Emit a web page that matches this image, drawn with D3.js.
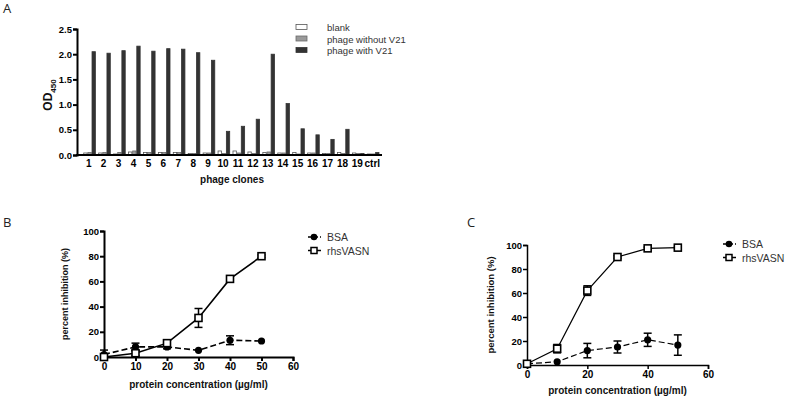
<!DOCTYPE html>
<html>
<head>
<meta charset="utf-8">
<script src="https://cdn.jsdelivr.net/npm/d3@7"></script>
<style>
  body { margin: 0; background: #fff; }
  svg { display: block; font-family: "Liberation Sans", Arial, sans-serif; }
  .tick text { font-family: "Liberation Sans", Arial, sans-serif; font-weight: bold; font-size: 10px; fill: #000; }
  .panel-letter { font-family: "Open Sans", "DejaVu Sans", sans-serif; font-size: 13px; fill: #222; }
  .title { font-weight: bold; font-size: 10px; fill: #111; }
  .leg { font-size: 10.5px; fill: #333; }
</style>
</head>
<body>
<svg id="chart" width="786" height="401"></svg>
<script>
// panel A data
const clones = ["1","2","3","4","5","6","7","8","9","10","11","12","13","14","15","16","17","18","19","ctrl"];
const blank =       [0.04,0.04,0.02,0.06,0.05,0.05,0.05,0.03,0.04,0.08,0.08,0.06,0.05,0.04,0.05,0.04,0.03,0.05,0.04,0.02];
const phageNoV21 =  [0.05,0.05,0.05,0.08,0.05,0.05,0.05,0.03,0.04,0.03,0.04,0.03,0.06,0.04,0.02,0.04,0.03,0.03,0.03,0.02];
const phageV21 =    [2.05,2.02,2.07,2.16,2.06,2.11,2.10,2.03,1.88,0.47,0.57,0.71,2.00,1.02,0.52,0.40,0.31,0.51,0.03,0.05];
const seriesA = ["blank", "phage without V21", "phage with V21"];
const yTicksA = [0, 0.5, 1.0, 1.5, 2.0, 2.5];

// panel B / C data
const conc = [0, 10, 20, 30, 40, 50];
const bsaB =      [2, 8, 8, 5.3, 13.3, 12.7];
const bsaBErr =   [3.5, 3, 1.5, 0, 3.5, 0];
const vasnB =     [0, 3, 11, 31, 62, 80];
const vasnBErr =  [2, 2, 2.5, 7.5, 1.5, 1];
const bsaC =      [1, 2.7, 12, 15, 21, 16.6];
const bsaCErr =   [1, 0, 6, 5, 5.5, 8.5];
const vasnC =     [1, 13.6, 62, 90, 97.2, 97.8];
const vasnCErr =  [1, 3.5, 4, 1, 1, 1];

const svg = d3.select("#chart");

// ---------- Panel A ----------
const ax = d3.scaleBand().domain(clones).range([79, 382]).paddingInner(0.2).paddingOuter(0.25);
const ay = d3.scaleLinear().domain([0, 2.5]).range([155, 29]);
const sub = d3.scaleBand().domain(seriesA).range([0, ax.bandwidth()]).paddingInner(0.12);
const fillA = {"blank": "#fff", "phage without V21": "#9a9a9a", "phage with V21": "#333"};
const strokeA = {"blank": "#555", "phage without V21": "#6a6a6a", "phage with V21": "#333"};
const valsA = {"blank": blank, "phage without V21": phageNoV21, "phage with V21": phageV21};

svg.append("text").attr("class", "panel-letter").attr("x", 3).attr("y", 13).text("A");

const gA = svg.append("g");
seriesA.forEach(s => {
  gA.selectAll(null)
    .data(clones)
    .enter()
    .append("rect")
    .attr("x", d => ax(d) + sub(s) + 1)
    .attr("y", (d, i) => ay(valsA[s][i]))
    .attr("width", sub.bandwidth() - 0.3)
    .attr("height", (d, i) => ay(0) - ay(valsA[s][i]))
    .attr("fill", fillA[s])
    .attr("stroke", strokeA[s])
    .attr("stroke-width", 0.8);
});

const yAxisA = svg.append("g")
  .attr("transform", "translate(77,0)")
  .call(d3.axisLeft(ay).tickValues(yTicksA).tickFormat(d3.format(".1f")).tickSize(4).tickPadding(1));
const xAxisA = svg.append("g")
  .attr("transform", "translate(0,155)")
  .call(d3.axisBottom(ax).tickSize(0).tickPadding(5));
xAxisA.select(".domain").attr("d", "M76,0H382");
[yAxisA, xAxisA].forEach(g => {
  g.select(".domain").attr("stroke", "#000").attr("stroke-width", 2);
  g.selectAll(".tick line").attr("stroke", "#000").attr("stroke-width", 2);
});
yAxisA.selectAll(".tick text").style("font-size", "9.5px");
xAxisA.selectAll(".tick text").style("font-size", "10px");

svg.append("text").attr("class", "title")
  .attr("transform", "translate(52,95) rotate(-90)")
  .attr("text-anchor", "middle")
  .style("font-size", "12px")
  .html('OD<tspan font-size="8" dy="3.5">450</tspan>');
svg.append("text").attr("class", "title")
  .attr("x", 232).attr("y", 183).attr("text-anchor", "middle")
  .text("phage clones");

const legA = svg.append("g").attr("transform", "translate(296,28)");
seriesA.forEach((s, i) => {
  legA.append("rect").attr("x", 0).attr("y", i * 11.5 - 3.5).attr("width", 11).attr("height", 5)
    .attr("fill", fillA[s]).attr("stroke", strokeA[s]).attr("stroke-width", 0.8);
  legA.append("text").attr("class", "leg").attr("x", 31).attr("y", i * 11.5 + 3).style("font-size", "9.5px").text(s);
});

// ---------- Panels B and C ----------
function linePanel(opt) {
  const x = d3.scaleLinear().domain([0, 60]).range([opt.x0, opt.x1]);
  const y = d3.scaleLinear().domain([0, 100]).range([opt.y0, opt.y1]);
  const g = svg.append("g");

  svg.append("text").attr("class", "panel-letter").attr("x", opt.lx).attr("y", opt.ly).text(opt.letter);

  const xa = g.append("g").attr("transform", `translate(0,${opt.y0})`)
    .call(d3.axisBottom(x).tickValues(opt.xTicks).tickSize(4).tickPadding(2));
  const ya = g.append("g").attr("transform", `translate(${opt.x0},0)`)
    .call(d3.axisLeft(y).tickValues([0, 20, 40, 60, 80, 100]).tickSize(4).tickPadding(1));
  [xa, ya].forEach(a => {
    a.select(".domain").attr("stroke", "#000").attr("stroke-width", opt.axisW);
    a.selectAll(".tick line").attr("stroke", "#000").attr("stroke-width", opt.axisW);
  });
  ya.selectAll(".tick text").style("font-size", "9.5px");

  g.append("text").attr("class", "title")
    .attr("transform", `translate(${opt.ytx},${(opt.y0 + opt.y1) / 2}) rotate(-90)`)
    .attr("text-anchor", "middle").style("font-size", opt.ytSize + "px").text("percent inhibition (%)");
  g.append("text").attr("class", "title")
    .attr("x", (opt.x0 + opt.x1) / 2).attr("y", opt.xty).attr("text-anchor", "middle")
    .text("protein concentration (\u00b5g/ml)");

  const sets = [
    {name: "BSA", vals: opt.bsa, err: opt.bsaErr, dash: "6,3", marker: "circle"},
    {name: "rhsVASN", vals: opt.vasn, err: opt.vasnErr, dash: null, marker: "square"}
  ];
  const line = d3.line().x(d => x(d[0])).y(d => y(d[1]));
  sets.forEach(s => {
    const pts = conc.map((c, i) => [c, s.vals[i], s.err[i]]);
    g.append("path").datum(pts).attr("d", line).attr("fill", "none")
      .attr("stroke", "#000").attr("stroke-width", opt.lineW)
      .attr("stroke-dasharray", s.dash);
    const eb = g.selectAll(null).data(pts.filter(p => p[2] > 0)).enter().append("g");
    eb.append("line").attr("x1", d => x(d[0])).attr("x2", d => x(d[0]))
      .attr("y1", d => y(d[1] - d[2])).attr("y2", d => y(d[1] + d[2]))
      .attr("stroke", "#000").attr("stroke-width", 1.5);
    [-1, 1].forEach(sg => {
      eb.append("line").attr("x1", d => x(d[0]) - 4).attr("x2", d => x(d[0]) + 4)
        .attr("y1", d => y(d[1] + sg * d[2])).attr("y2", d => y(d[1] + sg * d[2]))
        .attr("stroke", "#000").attr("stroke-width", 1.5);
    });
    if (s.marker === "circle") {
      g.selectAll(null).data(pts).enter().append("circle")
        .attr("cx", d => x(d[0])).attr("cy", d => y(d[1])).attr("r", 3.6).attr("fill", "#000");
    } else {
      g.selectAll(null).data(pts).enter().append("rect")
        .attr("x", d => x(d[0]) - 3.5).attr("y", d => y(d[1]) - 3.5)
        .attr("width", 7).attr("height", 7)
        .attr("fill", "#fff").attr("stroke", "#000").attr("stroke-width", 1.6);
    }
  });

  const leg = g.append("g").attr("transform", `translate(${opt.legX},${opt.legY})`);
  sets.forEach((s, i) => {
    const ly = i * 13.5;
    leg.append("line").attr("x1", 0).attr("x2", 13).attr("y1", ly).attr("y2", ly)
      .attr("stroke", "#000").attr("stroke-width", 1.5).attr("stroke-dasharray", s.dash ? "4,2" : null);
    if (s.marker === "circle") {
      leg.append("circle").attr("cx", 6).attr("cy", ly).attr("r", 3.3).attr("fill", "#000");
    } else {
      leg.append("rect").attr("x", 3).attr("y", ly - 3).attr("width", 6).attr("height", 6)
        .attr("fill", "#fff").attr("stroke", "#000").attr("stroke-width", 1.5);
    }
    leg.append("text").attr("class", "leg").attr("x", 19).attr("y", ly + 4).text(s.name);
  });
}

linePanel({letter: "B", lx: 3, ly: 227, x0: 104, x1: 293, y0: 357, y1: 231,
  xTicks: [0, 10, 20, 30, 40, 50, 60], axisW: 2, lineW: 1.6, ytx: 68, ytSize: 9, xty: 388,
  bsa: bsaB, bsaErr: bsaBErr, vasn: vasnB, vasnErr: vasnBErr, legX: 308, legY: 237});
linePanel({letter: "C", lx: 467, ly: 227, x0: 527, x1: 708, y0: 365, y1: 245,
  xTicks: [0, 20, 40, 60], axisW: 1.5, lineW: 1.2, ytx: 494, ytSize: 9.5, xty: 394,
  bsa: bsaC, bsaErr: bsaCErr, vasn: vasnC, vasnErr: vasnCErr, legX: 723, legY: 244});
</script>
</body>
</html>
